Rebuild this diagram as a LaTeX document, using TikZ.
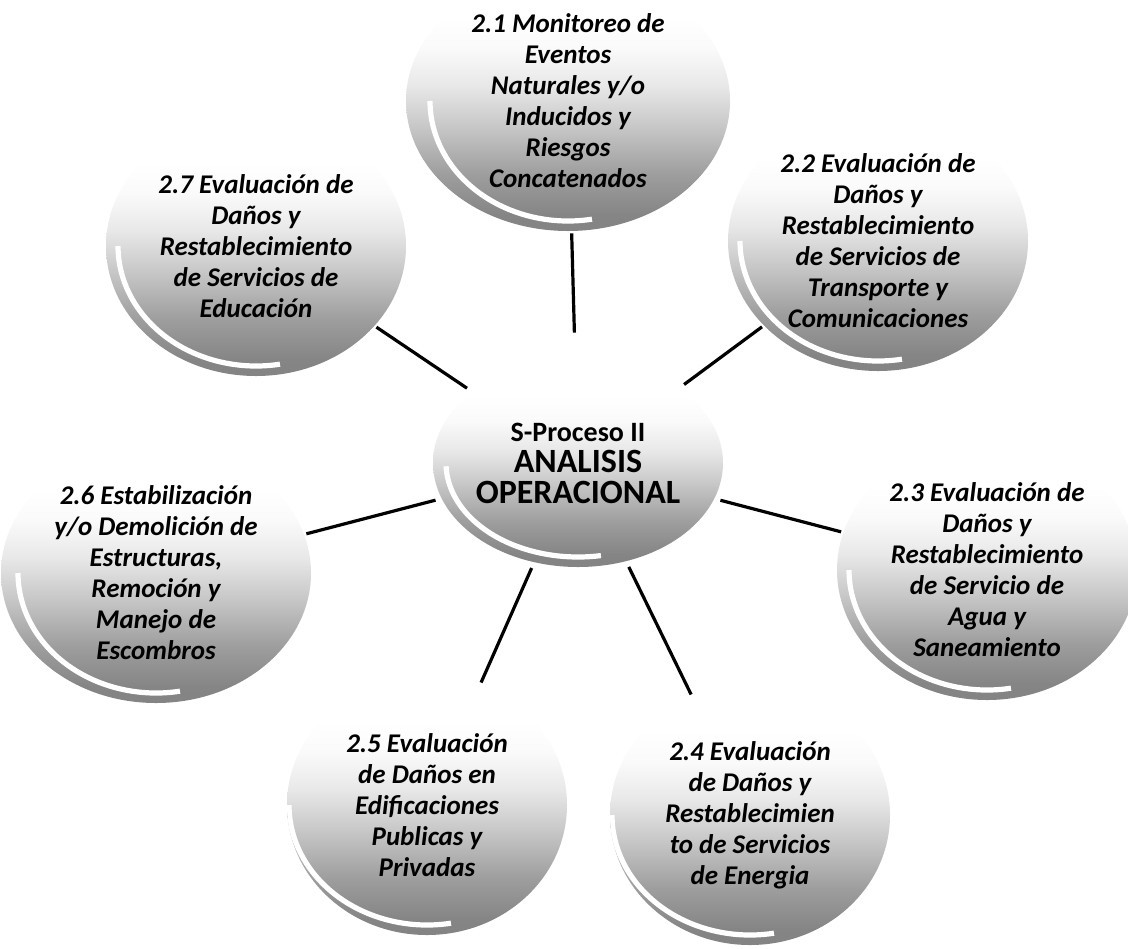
\documentclass[tikz,border=0pt]{standalone}
\usepackage{fontspec}
\setmainfont{Carlito}
\usetikzlibrary{shapes.geometric}

% white upper part, grey towards the bottom
\pgfdeclareverticalshading{orb}{100bp}{color(0bp)=(black!50); color(28bp)=(black!48); color(36bp)=(black!38);
    color(45bp)=(black!22); color(53bp)=(black!9); color(60bp)=(black!2); color(66bp)=(white); color(100bp)=(white)}
\newcommand{\hubcaps}[1]{{\fontsize{17}{16}\selectfont #1}}

\begin{document}
\begin{tikzpicture}[
    x=0.5pt, y=-0.5pt,
    sphere/.style={ellipse, minimum width=150pt, minimum height=130pt, inner sep=0pt, draw=none, shading=orb,
        path picture={\draw[white, line width=2.6pt] (path picture bounding box.center) ++(180:69pt and 60pt)
            arc[start angle=180, end angle=280, x radius=69pt, y radius=60pt];}},
    hub/.style={sphere, minimum width=145pt, minimum height=104pt,
        path picture={\draw[white, line width=2.6pt] (path picture bounding box.center) ++(182:66pt and 47pt)
            arc[start angle=182, end angle=280, x radius=66pt, y radius=47pt];}},
    txt/.style={align=center, inner sep=0pt, font=\fontsize{13.5}{15.5}\selectfont\bfseries\itshape},
    hubtxt/.style={align=center, inner sep=0pt, font=\fontsize{14}{15.5}\selectfont\bfseries},
    link/.style={line width=1.6pt, shorten <=3pt, shorten >=1pt}
]
\useasboundingbox (0,0) rectangle (1128,948);

% spheres
\node[hub] (ctr) at (578,463) {};
\node[sphere, minimum width=162pt] (m1) at (568,101) {};
\node[sphere] (m2) at (878,241) {};
\node[sphere] (m3) at (987,570) {};
\node[sphere, minimum width=140pt] (m4) at (750,815) {};
\node[sphere, minimum width=140pt] (m5) at (427,805) {};
\node[sphere, minimum width=155pt] (m6) at (156,573) {};
\node[sphere] (m7) at (256,246) {};

% spokes
\foreach \i/\s in {1/13pt,2/3pt,3/3pt,4/3pt,5/3pt,6/3pt,7/3pt}
    \draw[link, shorten <=\s] (ctr) -- (m\i);

% texts
\node[hubtxt] (t0) at (ctr) {S-Proceso II\\ \hubcaps{ANALISIS}\\ \hubcaps{OPERACIONAL}};
\node[txt] (t1) at (m1) {2.1 Monitoreo de\\ Eventos\\ Naturales y/o\\ Inducidos y\\ Riesgos\\ Concatenados};
\node[txt] (t2) at (m2) {2.2 Evaluación de\\ Daños y\\ Restablecimiento\\ de Servicios de\\ Transporte y\\ Comunicaciones};
\node[txt] (t3) at (m3) {2.3 Evaluación de\\ Daños y\\ Restablecimiento\\ de Servicio de\\ Agua y\\ Saneamiento};
\node[txt] (t4) at (m4) {2.4 Evaluación\\ de Daños y\\ Restablecimien\\ to de Servicios\\ de Energia};
\node[txt] (t5) at (m5) {2.5 Evaluación\\ de Daños en\\ Edificaciones\\ Publicas y\\ Privadas};
\node[txt] (t6) at (m6) {2.6 Estabilización\\ y/o Demolición de\\ Estructuras,\\ Remoción y\\ Manejo de\\ Escombros};
\node[txt] (t7) at (m7) {2.7 Evaluación de\\ Daños y\\ Restablecimiento\\ de Servicios de\\ Educación};
\end{tikzpicture}
\end{document}
